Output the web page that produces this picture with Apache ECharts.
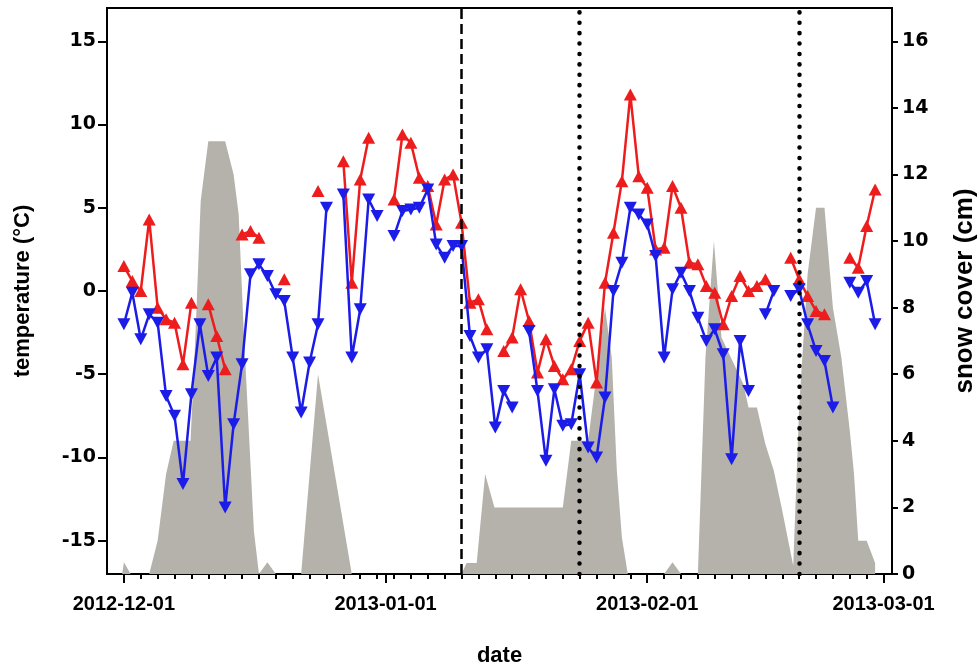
<!DOCTYPE html>
<html><head><meta charset="utf-8">
<script src="https://cdn.jsdelivr.net/npm/echarts@6/dist/echarts.min.js"></script>
<style>html,body{margin:0;padding:0;background:#fff}#chart{width:978px;height:667px}</style>
</head><body><div id="chart"></div>
<script>
// day index 0 = 2012-12-01
const dayIndex = [];
for (let d = 0; d < 90; d++) dayIndex.push(d);

// daily maximum temperature (°C), null = missing
const tmax = [1.5, 0.6, 0.0, 4.3, -1.0, -1.7, -1.9, -4.4, -0.7, null,
  -0.8, -2.7, -4.7, null, 3.4, 3.6, 3.2, null, null, 0.7,
  null, null, null, 6.0, null, null, 7.8, 0.5, 6.7, 9.2,
  null, null, 5.5, 9.4, 8.9, 6.8, 6.3, 4.0, 6.7, 7.0,
  4.1, -0.7, -0.5, -2.3, null, -3.6, -2.8, 0.1, -1.8, -4.9,
  -2.9, -4.5, -5.3, -4.7, -3.0, -1.9, -5.5, 0.5, 3.5, 6.6,
  11.8, 6.9, 6.2, 2.5, 2.6, 6.3, 5.0, 1.7, 1.6, 0.3,
  -0.1, -2.0, -0.3, 0.9, 0.0, 0.3, 0.7, null, null, 2.0,
  0.7, -0.3, -1.2, -1.4, null, null, 2.0, 1.4, 3.9, 6.1];

// daily minimum temperature (°C), null = missing
const tmin = [-2.0, -0.1, -2.9, -1.4, -1.9, -6.3, -7.5, -11.6, -6.2, -2.0,
  -5.1, -4.0, -13.0, -8.0, -4.4, 1.0, 1.6, 0.9, -0.2, -0.6,
  -4.0, -7.3, -4.3, -2.0, 5.0, null, 5.8, -4.0, -1.1, 5.5,
  4.5, null, 3.3, 4.8, 4.9, 5.0, 6.1, 2.8, 2.0, 2.7,
  2.7, -2.7, -4.0, -3.5, -8.2, -6.0, -7.0, null, -2.4, -6.0,
  -10.2, -5.9, -8.1, -8.0, -5.0, -9.4, -10.0, -6.4, 0.0, 1.7,
  5.0, 4.6, 4.0, 2.1, -4.0, 0.1, 1.1, 0.0, -1.6, -3.0,
  -2.3, -3.8, -10.1, -3.0, -6.0, null, -1.4, 0.0, null, -0.3,
  0.1, -2.0, -3.6, -4.2, -7.0, null, 0.5, -0.1, 0.6, -2.0];

// snow cover (cm) read at breakpoints (day index)
const snowDays = [-0.2, 0, 0.8,
  3, 4, 5, 5.9, 7.9, 8.5, 9.1, 10, 12, 13, 13.6, 14.2, 14.8, 15.4, 16,
  17, 18,
  21, 23, 27,
  40, 40.6, 41.8, 42.8, 43.9, 52, 53, 55, 56, 57, 57.8, 58.4, 59, 59.7,
  64, 65, 66,
  68, 68.9, 69.9, 70.8, 73.4, 74, 75, 76, 77, 78, 79.3,
  80, 81, 82, 83, 84, 85, 86, 86.5, 87, 88, 89];
const snowCm = [0, 0.35, 0,
  0, 1.0, 3.0, 4.0, 4.0, 7.3, 11.2, 13, 13, 12, 10.8, 7.3, 4.3, 1.3, 0,
  0.35, 0,
  0, 6.0, 0,
  0, 0.33, 0.33, 3.0, 2.0, 2.0, 4.0, 4.0, 6.0, 8.0, 6.5, 3.1, 1.1, 0,
  0, 0.35, 0,
  0, 6.5, 10, 7.1, 5.7, 5.0, 5.0, 3.9, 3.1, 1.9, 0.25,
  5.0, 9.0, 11, 11, 8.0, 6.5, 4.3, 3.0, 1.0, 1.0, 0.33];

// vertical event lines (day index)
const dashedDays = [40];
const dottedDays = [54, 80];

// axis ticks
const dateTickDays = [0, 31, 62, 90];
const dateTickLabels = ['2012-12-01', '2013-01-01', '2013-02-01', '2013-03-01'];
const minorTickDays = [];
for (let d = 0; d <= 90; d += 2) minorTickDays.push(d);
const tempTicks = [-15, -10, -5, 0, 5, 10, 15];
const snowTicks = [0, 2, 4, 6, 8, 10, 12, 14, 16];

const toPairs = (arr) => arr.map((v, i) => [dayIndex[i], v === null ? '-' : v]);
const snowPairs = snowDays.map((d, i) => [d, snowCm[i]]);

const RED = '#ee1d1d';
const BLUE = '#1c1ce8';
const GREY = '#b4b2aa';
const lblFont = { fontFamily: 'Liberation Sans, Arial, sans-serif', fontWeight: 'bold', color: '#000' };

const chart = echarts.init(document.getElementById('chart'), null, { renderer: 'canvas' });
chart.setOption({
  animation: false,
  backgroundColor: '#fff',
  grid: { left: 107, right: 86, top: 8, bottom: 93, show: true, borderColor: '#000', borderWidth: 2, backgroundColor: 'transparent', outerBoundsMode: 'none' },
  xAxis: [{
    type: 'value', min: -2, max: 91, position: 'bottom',
    axisLine: { show: true, onZero: false, lineStyle: { color: '#000', width: 2 } },
    axisTick: { show: true, customValues: minorTickDays, length: 5, lineStyle: { color: '#000', width: 2 } },
    axisLabel: { show: false },
    splitLine: { show: false }
  }, {
    type: 'value', min: -2, max: 91, position: 'bottom',
    axisLine: { show: false, onZero: false },
    axisTick: { show: true, customValues: dateTickDays, length: 9, lineStyle: { color: '#000', width: 2 } },
    axisLabel: {
      show: true, customValues: dateTickDays, margin: 20,
      fontSize: 20, ...lblFont,
      formatter: (v) => dateTickLabels[dateTickDays.indexOf(v)] || ''
    },
    splitLine: { show: false },
    name: 'date', nameLocation: 'middle', nameGap: 71,
    nameTextStyle: { fontSize: 22, ...lblFont }
  }],
  yAxis: [{
    type: 'value', min: -17, max: 17, position: 'left',
    axisLine: { show: true, onZero: false, lineStyle: { color: '#000', width: 2 } },
    axisTick: { show: true, customValues: tempTicks, length: 9, lineStyle: { color: '#000', width: 2 } },
    axisLabel: { show: true, customValues: tempTicks, margin: 11, fontSize: 19, fontFamily: 'DejaVu Sans, sans-serif', fontWeight: 'bold', color: '#000' },
    splitLine: { show: false },
    name: 'temperature (°C)', nameLocation: 'middle', nameRotate: 90, nameGap: 73,
    nameTextStyle: { fontSize: 22, ...lblFont }
  }, {
    type: 'value', min: 0, max: 17, position: 'right',
    axisLine: { show: true, onZero: false, lineStyle: { color: '#000', width: 2 } },
    axisTick: { show: true, customValues: snowTicks, length: 6, lineStyle: { color: '#000', width: 2 } },
    axisLabel: { show: true, customValues: snowTicks, margin: 10, fontSize: 19, fontFamily: 'DejaVu Sans, sans-serif', fontWeight: 'bold', color: '#000' },
    splitLine: { show: false },
    name: 'snow cover (cm)', nameLocation: 'middle', nameRotate: 90, nameGap: 60,
    nameTextStyle: { fontSize: 26, ...lblFont }
  }],
  series: [{
    name: 'snow', type: 'line', xAxisIndex: 0, yAxisIndex: 1,
    data: snowPairs, symbol: 'none', smooth: false,
    lineStyle: { width: 0 }, areaStyle: { color: GREY, opacity: 1 }, z: 1
  }, {
    name: 'Tmax', type: 'line', xAxisIndex: 0, yAxisIndex: 0,
    data: toPairs(tmax), connectNulls: false,
    symbol: 'triangle', symbolSize: [13, 12],
    itemStyle: { color: RED }, lineStyle: { color: RED, width: 2.5 }, z: 3
  }, {
    name: 'Tmin', type: 'line', xAxisIndex: 0, yAxisIndex: 0,
    data: toPairs(tmin), connectNulls: false,
    symbol: 'triangle', symbolSize: [13, 12], symbolRotate: 180,
    itemStyle: { color: BLUE }, lineStyle: { color: BLUE, width: 2.5 }, z: 4
  }, {
    name: 'events', type: 'line', xAxisIndex: 0, yAxisIndex: 0, data: [], z: 5,
    markLine: {
      silent: true, symbol: 'none', label: { show: false }, animation: false,
      data: [
        ...dashedDays.map(d => ({ xAxis: d, lineStyle: { color: '#000', width: 2.5, type: [10, 5] } })),
        ...dottedDays.map(d => ({ xAxis: d, lineStyle: { color: '#000', width: 4.5, type: [0.1, 10.3], cap: 'round' } }))
      ]
    }
  }]
});
</script></body></html>
